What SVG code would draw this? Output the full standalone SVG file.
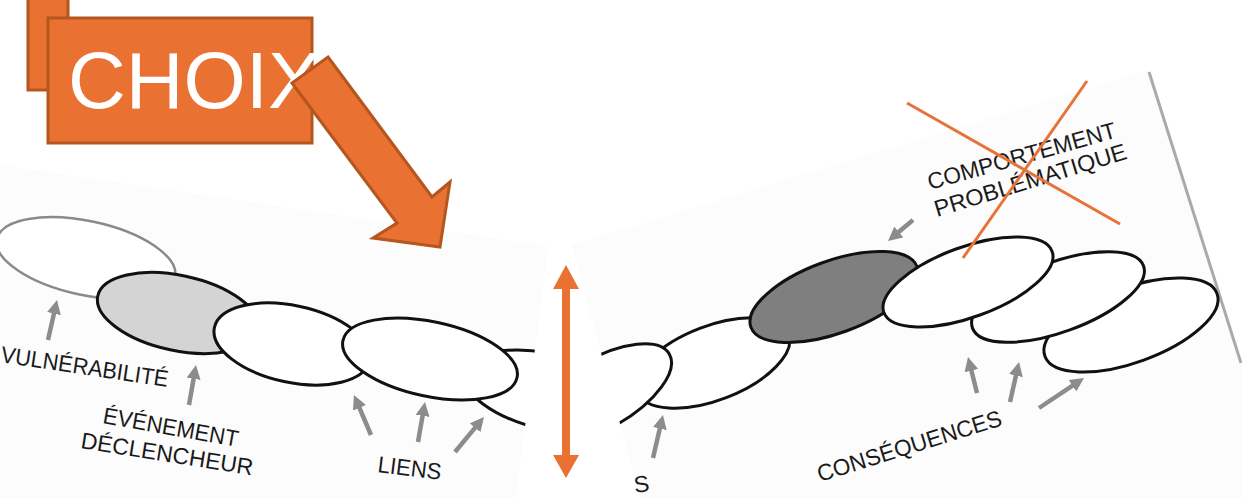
<svg xmlns="http://www.w3.org/2000/svg" width="1242" height="498" viewBox="0 0 1242 498">
<style>
.lbl{font-family:"Liberation Sans",Arial,sans-serif;font-size:23px;fill:#1a1a1a}
.ell{stroke:#111;stroke-width:3}
.garr{stroke:#8c8c8c;stroke-width:4.5;fill:none;marker-end:url(#gh)}
.orange{fill:#E97132;stroke:#B5561F;stroke-width:3}
</style>
<defs>
<marker id="gh" viewBox="0 0 14 14" markerUnits="userSpaceOnUse" markerWidth="14" markerHeight="14" refX="7" refY="7" orient="auto">
<path d="M0,0 L14,7 L0,14 z" fill="#8c8c8c"/>
</marker>
<clipPath id="clipL"><polygon points="0,165 548,246 516,498 0,498"/></clipPath>
<clipPath id="clipR"><polygon points="572,245 1149,70 1242,368 1242,498 640,498"/></clipPath>
</defs>
<rect width="1242" height="498" fill="#fff"/>

<g id="panel-left">
<polygon points="0,165 548,246 516,498 0,498" fill="#fcfcfc"/>
<g clip-path="url(#clipL)">
<ellipse id="vulnerabilite-ell" cx="86" cy="258" rx="91" ry="37" transform="rotate(12 86 258)" fill="#fff" stroke="#8a8a8a" stroke-width="2.5"/>
<ellipse id="evenement-ell" class="ell" cx="178" cy="313" rx="82" ry="37.6" transform="rotate(12 178 313)" fill="#d4d4d4"/>
<ellipse id="lien1-ell" class="ell" cx="292" cy="344" rx="79.3" ry="38.4" transform="rotate(12 292 344)" fill="#fff"/>
<ellipse id="lien3-ell" class="ell" cx="550" cy="392" rx="88" ry="38" transform="rotate(13 550 392)" fill="#fff"/>
<ellipse id="lien2-ell" class="ell" cx="430" cy="359" rx="89" ry="37.3" transform="rotate(12 430 359)" fill="#fff"/>
</g>
<text class="lbl" transform="translate(0,362) rotate(8.5)" textLength="169" lengthAdjust="spacingAndGlyphs">VULNÉRABILITÉ</text>
<text class="lbl" transform="translate(102,423) rotate(10)" textLength="137" lengthAdjust="spacingAndGlyphs">ÉVÉNEMENT</text>
<text class="lbl" transform="translate(80,448) rotate(9)" textLength="174" lengthAdjust="spacingAndGlyphs">DÉCLENCHEUR</text>
<text class="lbl" transform="translate(377,472) rotate(7)" textLength="64" lengthAdjust="spacingAndGlyphs">LIENS</text>
</g>

<g id="panel-right">
<polygon points="572,245 1149,70 1242,368 1242,498 640,498" fill="#fcfcfc"/>
<line x1="1149" y1="72" x2="1241" y2="363" stroke="#aaa" stroke-width="3"/>
<g clip-path="url(#clipR)">
<ellipse id="r-b" class="ell" cx="713" cy="363" rx="81" ry="37" transform="rotate(-21 713 363)" fill="#fff"/>
<ellipse id="r-a" class="ell" cx="600" cy="394" rx="80" ry="35" transform="rotate(-30 600 394)" fill="#fff"/>
<ellipse id="comportement-ell" class="ell" cx="834" cy="297" rx="88.4" ry="36.2" transform="rotate(-20 834 297)" fill="#7f7f7f"/>
<ellipse id="r-f" class="ell" cx="1131" cy="325" rx="91.6" ry="37.3" transform="rotate(-20 1131 325)" fill="#fff"/>
<ellipse id="r-e" class="ell" cx="1058" cy="297" rx="91" ry="35" transform="rotate(-20 1058 297)" fill="#fff"/>
<ellipse id="r-d" class="ell" cx="968" cy="282" rx="89.5" ry="35.1" transform="rotate(-20 968 282)" fill="#fff"/>
</g>
<text class="lbl" transform="translate(930,190) rotate(-15.7)" textLength="195" lengthAdjust="spacingAndGlyphs">COMPORTEMENT</text>
<text class="lbl" transform="translate(937,217) rotate(-17)" textLength="200" lengthAdjust="spacingAndGlyphs">PROBLÉMATIQUE</text>
<text class="lbl" transform="translate(820,482) rotate(-17.3)" textLength="192" lengthAdjust="spacingAndGlyphs">CONSÉQUENCES</text>
<text class="lbl" transform="translate(635,493) rotate(-8)">S</text>
</g>

<g id="connectors">
<line class="garr" x1="48" y1="340" x2="55.5" y2="306.8"/>
<line class="garr" x1="189" y1="405" x2="194.8" y2="371.9"/>
<line class="garr" x1="371" y1="435" x2="356.7" y2="401.4"/>
<line class="garr" x1="418" y1="442" x2="423.8" y2="408.9"/>
<line class="garr" x1="455" y1="452" x2="479.5" y2="422.4"/>
<line class="garr" x1="913" y1="220" x2="893.4" y2="236.5"/>
<line class="garr" x1="653" y1="458" x2="661.4" y2="421.8"/>
<line class="garr" x1="977" y1="393" x2="969.7" y2="363.8"/>
<line class="garr" x1="1010" y1="402" x2="1017.5" y2="368.8"/>
<line class="garr" x1="1039" y1="408" x2="1078.2" y2="381.9"/>
</g>

<g id="cross">
<line x1="907" y1="103" x2="1120" y2="224" stroke="#E8733A" stroke-width="3"/>
<line x1="1087" y1="81" x2="963" y2="258" stroke="#E8733A" stroke-width="3"/>
</g>

<g id="double-arrow">
<polygon points="566,265 579,289 570,289 570,455 579,455 566,478 553,455 562,455 562,289 553,289" fill="#E97132"/>
</g>

<g id="choix">
<rect class="orange" x="28" y="-5" width="40" height="95"/>
<rect class="orange" x="48" y="18" width="264" height="125"/>
<text x="68" y="108" font-family="'Liberation Sans',Arial,sans-serif" font-size="80" fill="#fff">CHOIX</text>
<polygon class="orange" points="328,57 432,197 450,182 440,247 373,238 397,223 292,83"/>
</g>
</svg>
